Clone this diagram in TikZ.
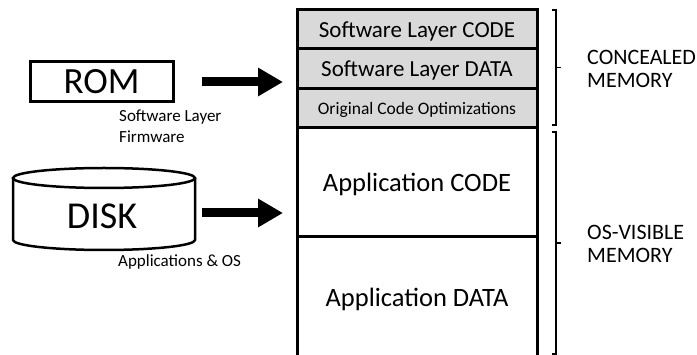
\documentclass[tikz,border=0pt]{standalone}
\usepackage{fontspec}
\setmainfont{Carlito}
\usetikzlibrary{arrows.meta}
\definecolor{layergray}{HTML}{D9D9D9}
\tikzset{
  memrow/.style={draw=black, line width=3pt, minimum width=240pt, inner sep=0pt,
    text depth=0pt, font=\fontsize{23}{27}\selectfont},
  smalltext/.style={inner sep=0pt, font=\fontsize{17}{20}\selectfont},
  sidetext/.style={inner sep=0pt, anchor=base west, font=\fontsize{22}{26}\selectfont},
  bigarrow/.style={line width=9pt, -{Triangle[length=25pt,width=27pt]}},
  bracketline/.style={line width=1.4pt},
}
\begin{document}
\begin{tikzpicture}[x=1pt,y=-1pt]
\useasboundingbox (0,0) rectangle (697,355);

% ROM source
\node[draw, line width=3pt, minimum width=143pt, minimum height=40pt, inner sep=0pt,
  font=\fontsize{37}{40}\selectfont] (rom) at (101.5,82) {ROM};
\node[smalltext, anchor=base west] (romlab1) at (119,122) {Software Layer};
\node[smalltext, anchor=base west] (romlab2) at (119,143) {Firmware};

% DISK source (cylinder)
\draw[line width=2.5pt] (104,178) ellipse [x radius=91, y radius=10];
\draw[line width=2.5pt] (13,178) -- (13,240) arc[start angle=180, end angle=360, x radius=91, y radius=-10] -- (195,178);
\node[inner sep=0pt, font=\fontsize{38}{40}\selectfont] (disk) at (102,216) {DISK};
\node[smalltext, anchor=base west] (disklab) at (118,267) {Applications \& OS};

% memory stack
\node[memrow, fill=layergray, minimum height=39pt] (swcode) at (417,29.5) {Software Layer CODE};
\node[memrow, fill=layergray, minimum height=40pt] (swdata) at (417,69) {Software Layer DATA};
\node[memrow, fill=layergray, minimum height=39pt, font=\fontsize{17.5}{20}\selectfont] (opt) at (417,108.5) {Original Code Optimizations};
\node[memrow, minimum height=109pt, font=\fontsize{26.5}{30}\selectfont] (appcode) at (417,182.5) {Application CODE};
\node[memrow, minimum height=121pt, font=\fontsize{26.5}{30}\selectfont] (appdata) at (417,297.5) {Application DATA};

% load arrows
\coordinate (a1s) at (202,82);
\coordinate (a1e) at (283,82);
\coordinate (a2s) at (202,213);
\coordinate (a2e) at (283,213);
\draw[bigarrow] (a1s) -- (a1e);
\draw[bigarrow] (a2s) -- (a2e);

% brackets
\draw[bracketline] (552,10) -- (556,10) -- (556,125) -- (552,125);
\draw[bracketline] (556,67.5) -- (561,67.5);
\draw[bracketline] (552,132) -- (556,132) -- (556,354) -- (552,354);
\draw[bracketline] (556,243) -- (561,243);

\node[sidetext] (conc1) at (587,65) {CONCEALED};
\node[sidetext] (conc2) at (587,88) {MEMORY};
\node[sidetext] (vis1) at (587,240) {OS-VISIBLE};
\node[sidetext] (vis2) at (587,263) {MEMORY};
\end{tikzpicture}
\end{document}
